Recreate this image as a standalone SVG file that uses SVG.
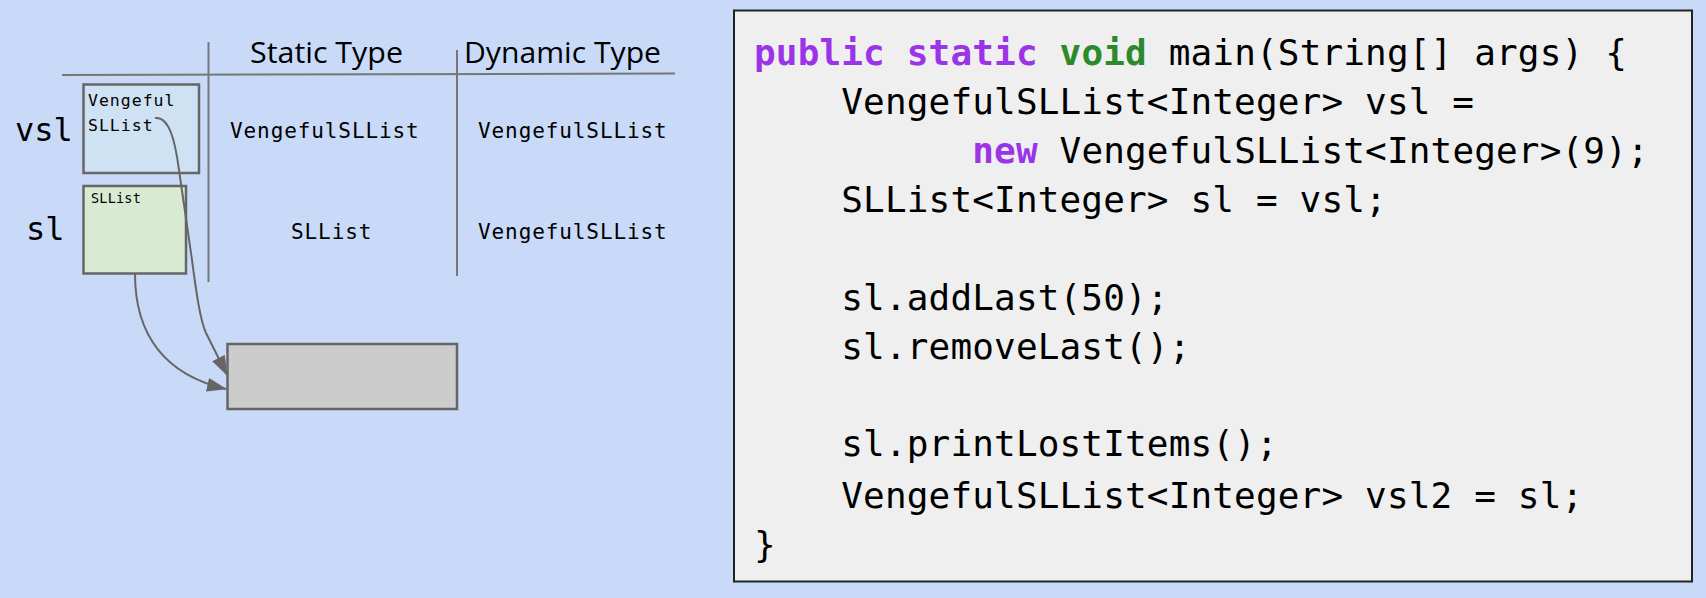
<svg xmlns="http://www.w3.org/2000/svg" width="1706" height="598" viewBox="0 0 1706 598">
<style>
.mono{font-family:"DejaVu Sans Mono","Liberation Mono",monospace;fill:#000}
.hdr{font-family:"Open Sans","Liberation Sans",Arial,sans-serif;font-size:29px;fill:#000}
.cell{font-size:21px;letter-spacing:0.9px}
.grid{stroke:#777;stroke-width:2;fill:none}
.box{stroke:#666;stroke-width:2.5}
.code{font-size:36px;letter-spacing:0.15px;white-space:pre}
.kw{fill:#9b34e8;font-weight:bold}
.ty{fill:#2b8a2b;font-weight:bold}
.conn{stroke:#666;stroke-width:2;fill:none}
</style>
<defs>
<marker id="arr" markerUnits="userSpaceOnUse" viewBox="0 0 20 14" refX="19" refY="7" markerWidth="20" markerHeight="14" orient="auto">
<path d="M0,0 L20,7 L0,14 z" fill="#666"/>
</marker>
</defs>
<rect x="0" y="0" width="1706" height="598" fill="#c9daf8"/>

<g id="table">
<line class="grid" x1="62" y1="75" x2="675" y2="73.5"/>
<line class="grid" x1="208.5" y1="42" x2="208.5" y2="282"/>
<line class="grid" x1="457" y1="50" x2="457" y2="276"/>
<text class="hdr" x="250" y="63" textLength="153" lengthAdjust="spacingAndGlyphs">Static Type</text>
<text class="hdr" x="464" y="63" textLength="197" lengthAdjust="spacingAndGlyphs">Dynamic Type</text>
<text class="mono cell" x="230" y="138">VengefulSLList</text>
<text class="mono cell" x="478" y="138">VengefulSLList</text>
<text class="mono cell" x="291" y="239">SLList</text>
<text class="mono cell" x="478" y="239">VengefulSLList</text>
<text class="mono" x="15" y="141" font-size="32">vsl</text>
<text class="mono" x="26" y="240" font-size="32">sl</text>
</g>

<g id="vsl">
<rect class="box" x="83.5" y="84.5" width="115.5" height="88.5" fill="#cfe2f3"/>
<text class="mono" x="88" y="106" font-size="16.5" letter-spacing="1">Vengeful</text>
<text class="mono" x="88" y="131" font-size="16.5" letter-spacing="1">SLList</text>
</g>

<g id="sl">
<rect class="box" x="83.5" y="186" width="102.5" height="87.5" fill="#d9ead3"/>
<text class="mono" x="91" y="202.5" font-size="13.5" letter-spacing="0.2">SLList</text>
</g>

<g id="object">
<rect class="box" x="227.5" y="344" width="229.5" height="65" fill="#cccccc"/>
</g>

<g id="connectors">
<path class="conn" d="M155,118 C169,116 175,140 179,170 L192,260 C196,290 200,320 206,333 L227,375" marker-end="url(#arr)"/>
<path class="conn" d="M135,274 C135,335 165,375 226,389" marker-end="url(#arr)"/>
</g>

<g id="code">
<rect x="734" y="10.5" width="958" height="571" fill="#efefef" stroke="#222" stroke-width="2"/>
<text class="mono code" x="754" y="65"><tspan class="kw">public</tspan> <tspan class="kw">static</tspan> <tspan class="ty">void</tspan> main(String[] args) {</text>
<text class="mono code" x="754" y="114">    VengefulSLList&lt;Integer&gt; vsl =</text>
<text class="mono code" x="754" y="163">          <tspan class="kw">new</tspan> VengefulSLList&lt;Integer&gt;(9);</text>
<text class="mono code" x="754" y="212">    SLList&lt;Integer&gt; sl = vsl;</text>
<text class="mono code" x="754" y="310">    sl.addLast(50);</text>
<text class="mono code" x="754" y="359">    sl.removeLast();</text>
<text class="mono code" x="754" y="456">    sl.printLostItems();</text>
<text class="mono code" x="754" y="508">    VengefulSLList&lt;Integer&gt; vsl2 = sl;</text>
<text class="mono code" x="754" y="557">}</text>
</g>
</svg>
